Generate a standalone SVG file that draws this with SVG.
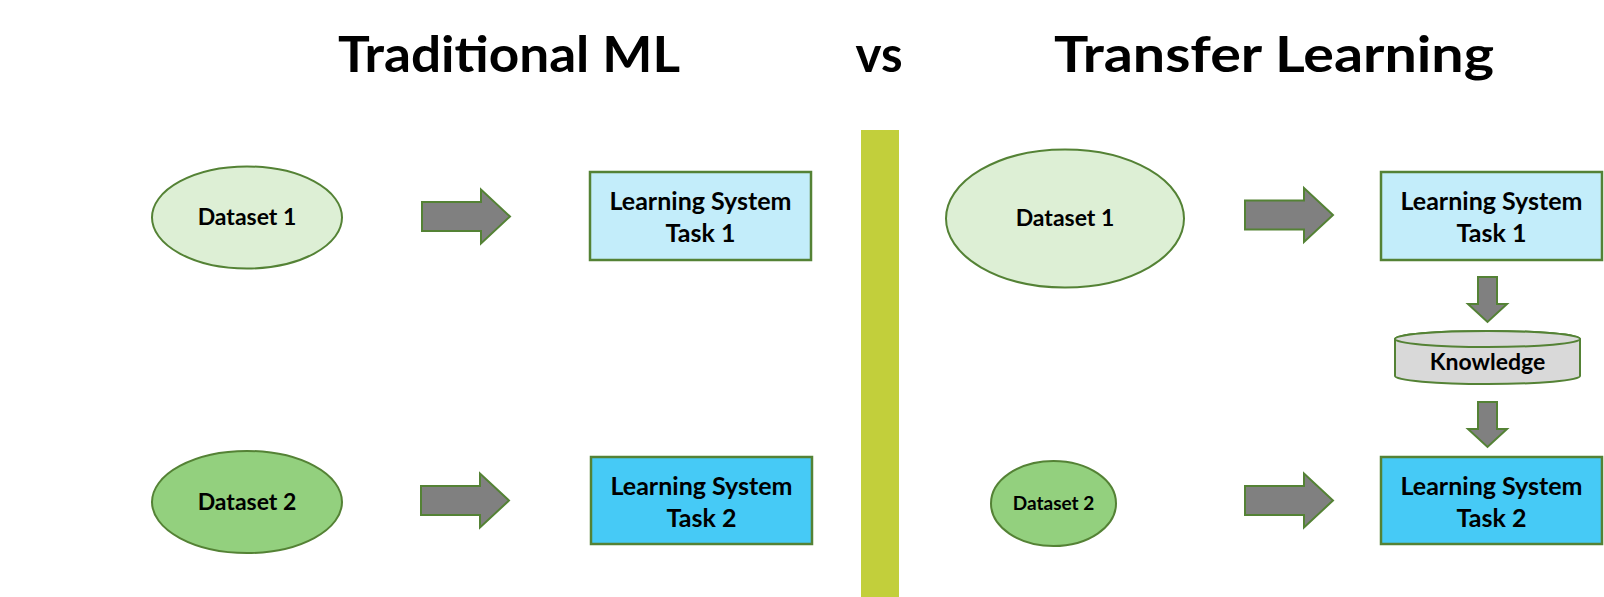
<svg xmlns="http://www.w3.org/2000/svg" width="1604" height="597" viewBox="0 0 1604 597">
<style>
.title{font-family:Lato,"Liberation Sans",sans-serif;font-weight:bold;font-size:50px;fill:#000;text-anchor:middle}
.lbl{font-family:Lato,"Liberation Sans",sans-serif;font-weight:bold;font-size:25px;fill:#000;text-anchor:middle}
.dl{font-size:23px}
.ds{stroke:#548235;stroke-width:2}
.box{stroke:#548235;stroke-width:2.5}
.arr{fill:#808080;stroke:#548235;stroke-width:2}
</style>
<defs>
<path id="rarrow" d="M0,-14.5 H59 V-27 L88,0 L59,27 V14.5 H0 Z"/>
<path id="darrow" d="M-9.5,0 H9.5 V27 H19.5 L0,45 L-19.5,27 H-9.5 Z"/>
</defs>
<rect id="divider" x="861" y="130" width="38" height="467" fill="#C2CF3B"/>
<g id="titles">
<text class="title" x="509" y="72" textLength="342" lengthAdjust="spacingAndGlyphs">Traditional ML</text>
<text class="title" x="879" y="72" textLength="47" lengthAdjust="spacingAndGlyphs">vs</text>
<text class="title" x="1274" y="72" textLength="440" lengthAdjust="spacingAndGlyphs">Transfer Learning</text>
</g>
<g id="trad-dataset1"><ellipse class="ds" cx="247" cy="217.5" rx="95" ry="51" fill="#DDEFD5"/><text class="lbl dl" x="247" y="225">Dataset 1</text></g>
<g id="trad-dataset2"><ellipse class="ds" cx="247" cy="502" rx="95" ry="51" fill="#93D07E"/><text class="lbl dl" x="247" y="510">Dataset 2</text></g>
<g id="trad-task1"><rect class="box" x="590" y="172" width="221" height="88" fill="#C3EDFA"/><text class="lbl" x="700.5" y="209.5">Learning System</text><text class="lbl" x="700.5" y="242">Task 1</text></g>
<g id="trad-task2"><rect class="box" x="591" y="457" width="221" height="87" fill="#46CAF6"/><text class="lbl" x="701.5" y="495">Learning System</text><text class="lbl" x="701.5" y="527">Task 2</text></g>
<g id="tl-dataset1"><ellipse class="ds" cx="1065" cy="218.5" rx="119" ry="69" fill="#DDEFD5"/><text class="lbl dl" x="1065" y="226">Dataset 1</text></g>
<g id="tl-dataset2"><ellipse class="ds" cx="1053.5" cy="503.5" rx="62.5" ry="42.5" fill="#93D07E"/><text class="lbl" x="1053.5" y="510" style="font-size:19px">Dataset 2</text></g>
<g id="tl-task1"><rect class="box" x="1381" y="172" width="221" height="88" fill="#C3EDFA"/><text class="lbl" x="1491.5" y="209.5">Learning System</text><text class="lbl" x="1491.5" y="242">Task 1</text></g>
<g id="tl-knowledge"><path class="ds" d="M1395,339 A92.5,8 0 0 1 1580,339 V376 A92.5,8 0 0 1 1395,376 Z" fill="#D9D9D9"/><ellipse class="ds" cx="1487.5" cy="339" rx="92.5" ry="8" fill="#D9D9D9"/><text class="lbl dl" x="1487.5" y="370">Knowledge</text></g>
<g id="tl-task2"><rect class="box" x="1381" y="457" width="221" height="87" fill="#46CAF6"/><text class="lbl" x="1491.5" y="495">Learning System</text><text class="lbl" x="1491.5" y="527">Task 2</text></g>
<g id="connectors">
<use href="#rarrow" class="arr" transform="translate(422,216.5)"/>
<use href="#rarrow" class="arr" transform="translate(421,500.5)"/>
<use href="#rarrow" class="arr" transform="translate(1245,215)"/>
<use href="#rarrow" class="arr" transform="translate(1245,500.5)"/>
<use href="#darrow" class="arr" transform="translate(1487.5,277)"/>
<use href="#darrow" class="arr" transform="translate(1487.5,402)"/>
</g>
</svg>
